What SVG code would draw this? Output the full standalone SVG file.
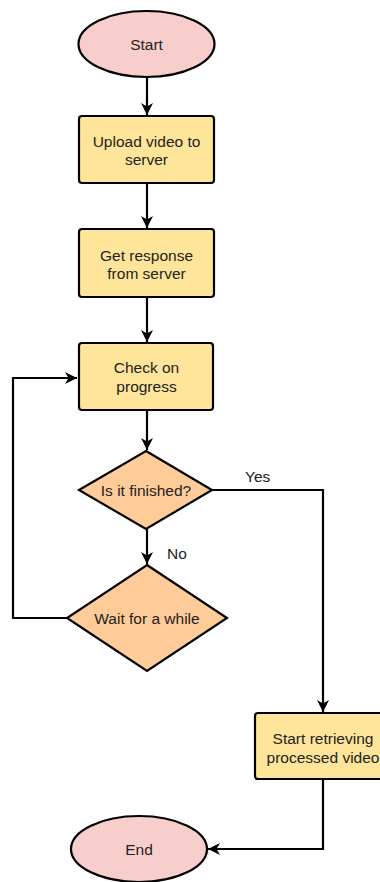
<svg xmlns="http://www.w3.org/2000/svg" width="380" height="882" viewBox="0 0 380 882">
  <style>
    .term { fill: #f8cecc; stroke: #000; stroke-width: 2.2; }
    .proc { fill: #ffe599; stroke: #000; stroke-width: 2.2; }
    .dec { fill: #ffcc99; stroke: #000; stroke-width: 2.2; }
    .edge { fill: none; stroke: #000; stroke-width: 2.2; }
    text { font-family: "Liberation Sans", Arial, sans-serif; font-size: 15.5px; fill: #222; text-anchor: middle; dominant-baseline: central; }
    .lbl { text-anchor: start; }
  </style>
  <defs>
    <marker id="arrow" markerUnits="userSpaceOnUse" markerWidth="14" markerHeight="14" viewBox="0 0 14 14" refX="13" refY="7" orient="auto">
      <path d="M1,1 L13,7 L1,13 L4.5,7 Z" fill="#000"/>
    </marker>
  </defs>

  <!-- connectors -->
  <g id="connectors">
    <path class="edge" d="M147,77 V115" marker-end="url(#arrow)"/>
    <path class="edge" d="M147,183 V228" marker-end="url(#arrow)"/>
    <path class="edge" d="M147,297 V342" marker-end="url(#arrow)"/>
    <path class="edge" d="M147,410 V450" marker-end="url(#arrow)"/>
    <path class="edge" d="M147,529 V564" marker-end="url(#arrow)"/>
    <path class="edge" d="M67,618 H13 V378 H77" marker-end="url(#arrow)"/>
    <path class="edge" d="M212,490 H323 V712" marker-end="url(#arrow)"/>
    <path class="edge" d="M323,779 V849 H208" marker-end="url(#arrow)"/>
    <text class="lbl" x="245" y="476">Yes</text>
    <text class="lbl" x="167" y="553">No</text>
  </g>

  <g id="start">
    <ellipse class="term" cx="146.5" cy="44" rx="68" ry="33"/>
    <text x="146.5" y="44">Start</text>
  </g>

  <g id="upload">
    <rect class="proc" x="79" y="116" width="135" height="67" rx="3"/>
    <text x="146.5" y="141">Upload video to</text>
    <text x="146.5" y="159">server</text>
  </g>

  <g id="response">
    <rect class="proc" x="79" y="229" width="135" height="68" rx="3"/>
    <text x="146.5" y="255">Get response</text>
    <text x="146.5" y="273">from server</text>
  </g>

  <g id="check">
    <rect class="proc" x="79" y="343" width="134" height="67" rx="3"/>
    <text x="146.5" y="367">Check on</text>
    <text x="146.5" y="386">progress</text>
  </g>

  <g id="finished">
    <polygon class="dec" points="146,451 212,490 146,529 79,490"/>
    <text x="146" y="490">Is it finished?</text>
  </g>

  <g id="wait">
    <polygon class="dec" points="147,565 227,618 147,671 67,618"/>
    <text x="147" y="618">Wait for a while</text>
  </g>

  <g id="retrieve">
    <rect class="proc" x="255" y="713" width="136" height="66" rx="3"/>
    <text x="323" y="738">Start retrieving</text>
    <text x="323" y="757">processed video</text>
  </g>

  <g id="end">
    <ellipse class="term" cx="139" cy="849" rx="68" ry="33"/>
    <text x="139" y="849">End</text>
  </g>
</svg>
